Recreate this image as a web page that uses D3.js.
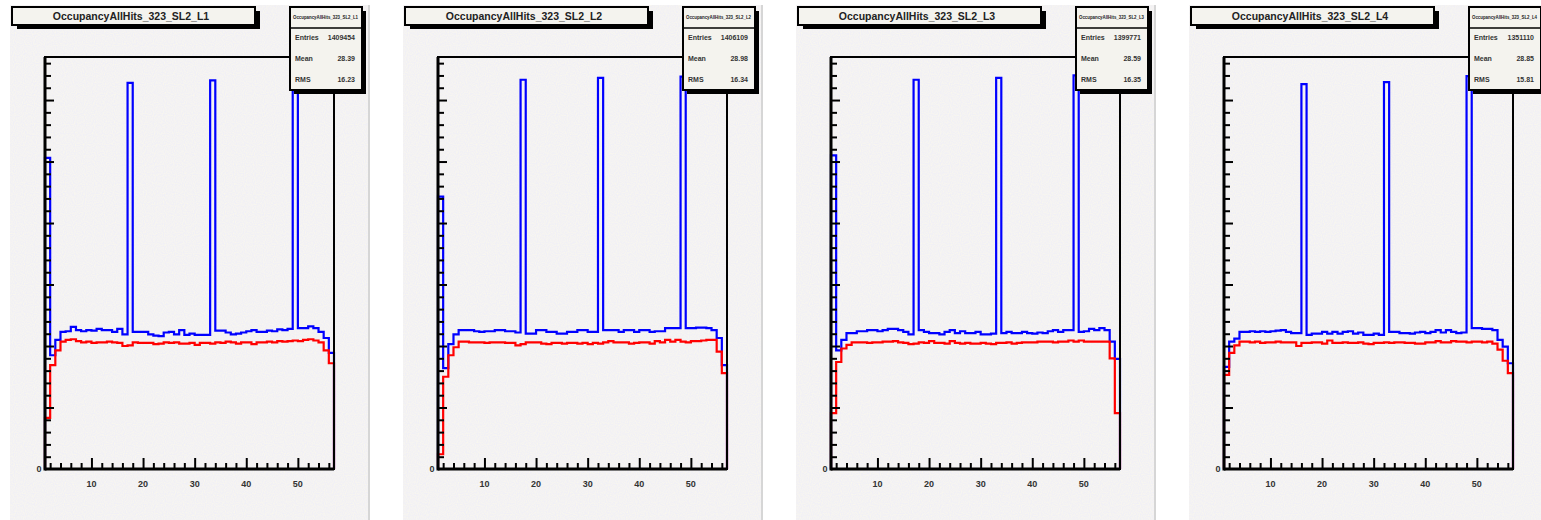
<!DOCTYPE html>
<html>
<head>
<meta charset="utf-8">
<script src="https://cdn.jsdelivr.net/npm/d3@7"></script>
<style>
  body { margin: 0; background: #fff; }
  svg { display: block; font-family: "Liberation Sans", Arial, sans-serif; }
</style>
</head>
<body>
<svg id="chart"></svg>
<script>
// Histogram data, in thousands of hits per channel (56 bins, channels 1..57)
const layers = ["L1", "L2", "L3", "L4"];
const titles = layers.map(l => "OccupancyAllHits_323_SL2_" + l);
const entries = ["1409454", "1406109", "1399771", "1351110"];
const means = ["28.39", "28.98", "28.59", "28.85"];
const rmsValues = ["16.23", "16.34", "16.35", "15.81"];

const blueL1 = [50.6, 18.5, 21.0, 22.3, 22.4, 23.1, 22.6, 22.4, 22.6, 22.5, 22.8, 22.6, 22.6, 22.3, 22.8, 21.9,
  62.8, 22.3, 22.3, 22.3, 21.9, 21.7, 21.6, 22.2, 22.3, 21.9, 22.6, 21.8, 22.0, 21.8, 21.8, 21.8,
  63.2, 22.5, 22.5, 22.2, 21.9, 22.0, 22.2, 22.4, 22.6, 22.3, 22.3, 22.5, 22.4, 22.7, 22.6, 22.8,
  64.0, 22.9, 22.9, 23.2, 22.9, 22.3, 21.3, 18.9];
const redL1 = [8.3, 16.9, 19.3, 20.7, 21.0, 21.1, 20.8, 20.6, 20.7, 20.5, 20.6, 20.6, 20.7, 20.6, 20.5, 20.0,
  20.1, 20.6, 20.5, 20.5, 20.5, 20.3, 20.4, 20.6, 20.5, 20.6, 20.4, 20.4, 20.5, 20.2, 20.5, 20.5,
  20.4, 20.6, 20.5, 20.7, 20.6, 20.4, 20.6, 20.6, 20.3, 20.6, 20.6, 20.7, 20.6, 20.8, 20.7, 20.8,
  20.9, 20.8, 21.0, 21.1, 20.9, 20.6, 19.3, 17.2];

const blueL2 = [44.3, 16.4, 20.3, 21.9, 22.6, 22.6, 22.6, 22.4, 22.3, 22.4, 22.4, 22.6, 22.6, 22.4, 22.4, 22.2,
  63.3, 22.0, 22.0, 22.6, 22.6, 22.3, 22.3, 22.0, 22.0, 22.3, 22.3, 22.6, 22.6, 22.3, 22.3,
  63.6, 22.6, 22.6, 22.6, 22.3, 22.6, 22.6, 22.3, 22.6, 22.6, 22.3, 22.4, 22.4, 22.9, 22.9, 22.9,
  63.8, 22.9, 22.9, 23.0, 23.0, 22.9, 22.6, 21.3, 16.9];
const redL2 = [2.4, 15.0, 18.5, 19.8, 20.7, 20.7, 20.6, 20.6, 20.6, 20.5, 20.6, 20.6, 20.6, 20.5, 20.5, 20.1,
  20.3, 20.6, 20.6, 20.6, 20.4, 20.3, 20.5, 20.5, 20.4, 20.5, 20.5, 20.4, 20.5, 20.3, 20.5, 20.4,
  20.6, 20.8, 20.6, 20.6, 20.6, 20.4, 20.5, 20.6, 20.6, 20.4, 20.8, 20.6, 21.0, 20.7, 21.0, 20.7,
  20.6, 20.8, 20.8, 20.9, 21.0, 21.0, 19.1, 15.6];

const blueL3 = [51.0, 19.3, 21.0, 22.1, 22.1, 22.4, 22.4, 22.6, 22.6, 22.4, 22.6, 22.8, 22.8, 22.6, 22.3, 21.9,
  63.3, 22.6, 22.3, 22.1, 22.1, 21.9, 22.3, 22.6, 22.1, 22.4, 22.1, 22.1, 22.3, 21.9, 21.9, 22.0,
  63.6, 22.1, 22.3, 22.1, 22.1, 22.3, 22.1, 22.0, 22.2, 22.1, 22.4, 22.6, 22.3, 22.6, 22.6,
  64.0, 22.3, 22.4, 22.8, 22.6, 22.9, 22.6, 20.7, 17.9];
const redL3 = [9.1, 17.4, 19.6, 20.2, 20.6, 20.6, 20.6, 20.5, 20.6, 20.6, 20.7, 20.7, 20.8, 20.6, 20.5, 20.3,
  20.4, 20.6, 20.5, 20.8, 20.5, 20.5, 20.4, 20.8, 20.5, 20.4, 20.5, 20.4, 20.4, 20.5, 20.4, 20.3,
  20.5, 20.5, 20.6, 20.4, 20.5, 20.6, 20.6, 20.6, 20.7, 20.7, 20.7, 20.6, 20.7, 20.7, 20.9, 20.7,
  20.9, 20.7, 20.7, 20.7, 20.7, 20.7, 18.0, 9.1];

const blueL4 = [16.6, 20.7, 21.2, 22.3, 22.3, 22.4, 22.3, 22.4, 22.3, 22.4, 22.5, 22.6, 22.3, 22.1, 22.1,
  62.6, 21.8, 22.0, 22.0, 22.3, 22.0, 22.3, 22.0, 22.3, 22.4, 22.0, 22.2, 21.8, 21.8, 22.0, 21.8,
  62.9, 22.3, 22.3, 22.1, 22.1, 22.0, 22.2, 22.3, 22.1, 22.3, 22.6, 22.2, 22.6, 22.3, 22.1, 22.2,
  63.9, 22.9, 22.9, 22.8, 22.8, 22.6, 21.0, 19.9, 17.2];
const redL4 = [15.3, 18.9, 20.1, 20.7, 20.7, 20.6, 20.7, 20.5, 20.6, 20.6, 20.7, 20.6, 20.6, 20.6, 20.0,
  20.5, 20.5, 20.6, 20.6, 20.4, 20.9, 20.5, 20.5, 20.6, 20.5, 20.5, 20.6, 20.4, 20.3, 20.5, 20.5,
  20.6, 20.5, 20.6, 20.6, 20.5, 20.5, 20.4, 20.4, 20.6, 20.6, 20.8, 20.6, 20.6, 20.8, 20.7, 20.7,
  20.6, 20.7, 20.7, 20.6, 20.7, 20.4, 19.4, 17.6, 15.6];

const blueSeries = [blueL1, blueL2, blueL3, blueL4];
const redSeries = [redL1, redL2, redL3, redL4];

const xDomain = [1, 57];
const yDomain = [0, 67];
const xMajorTicks = [10, 20, 30, 40, 50];

// Layout
const W = 1541, H = 520;
const panelLeft = [10, 403, 796, 1189];
const canvasW = 358;
const frame = { left: 35, width: 289, top: 57, bottom: 469 };

const svg = d3.select("#chart").attr("width", W).attr("height", H);
svg.append("rect").attr("width", W).attr("height", H).attr("fill", "#fff");

// speckled ROOT canvas look
const defs = svg.append("defs");
const filt = defs.append("filter").attr("id", "speckle").attr("x", 0).attr("y", 0).attr("width", 1).attr("height", 1);
filt.append("feTurbulence").attr("type", "fractalNoise").attr("baseFrequency", 0.9).attr("numOctaves", 1).attr("seed", 3).attr("result", "n");
filt.append("feColorMatrix").attr("in", "n").attr("type", "matrix")
  .attr("values", "0 0 0 0 0.97  0 0 0 0 0.95  0 0 0 0 0.84  1.2 -0.7 0 0 0").attr("result", "c");
filt.append("feComposite").attr("in", "c").attr("in2", "SourceGraphic").attr("operator", "over");

layers.forEach((layer, p) => {
  const ox = panelLeft[p];
  const g = svg.append("g").attr("transform", `translate(${ox},0)`);

  g.append("rect").attr("x", 0).attr("y", 5).attr("width", canvasW).attr("height", H - 5)
    .attr("fill", "#f1f0f5").attr("filter", "url(#speckle)");
  g.append("line").attr("x1", canvasW + 1).attr("x2", canvasW + 1).attr("y1", 5).attr("y2", H)
    .attr("stroke", "#c8c8c8").attr("stroke-width", 1.5);

  const x = d3.scaleLinear().domain(xDomain).range([frame.left, frame.left + frame.width]);
  const y = d3.scaleLinear().domain(yDomain).range([frame.bottom, frame.top]);

  // histograms as step outlines
  const line = d3.line().x(d => x(d[0])).y(d => y(d[1])).curve(d3.curveStepAfter);
  const outline = vals => {
    const pts = [[xDomain[0], 0]];
    vals.forEach((v, i) => pts.push([xDomain[0] + i, v]));
    pts.push([xDomain[1], vals[vals.length - 1]]);
    pts.push([xDomain[1], 0]);
    return pts;
  };
  g.append("path").attr("d", line(outline(blueSeries[p])))
    .attr("fill", "none").attr("stroke", "#0000ff").attr("stroke-width", 2.2);
  g.append("path").attr("d", line(outline(redSeries[p])))
    .attr("fill", "none").attr("stroke", "#ff0000").attr("stroke-width", 2.2);

  // frame box drawn over the histogram edges
  g.append("rect").attr("x", frame.left).attr("y", frame.top)
    .attr("width", frame.width).attr("height", frame.bottom - frame.top)
    .attr("fill", "none").attr("stroke", "#000").attr("stroke-width", 2);

  // x axis: ticks inside the frame, pointing up
  const xAxis = d3.axisTop(x).tickValues(d3.range(2, 57, 2)).tickFormat("").tickSizeOuter(0)
    .tickSize(5);
  const xg = g.append("g").attr("transform", `translate(0,${frame.bottom})`).call(xAxis);
  xg.select(".domain").remove();
  xg.selectAll(".tick line").attr("stroke", "#000").attr("stroke-width", 2)
    .attr("y2", d => xMajorTicks.includes(d) ? -11 : -6);
  xMajorTicks.forEach(t => {
    g.append("text").attr("x", x(t)).attr("y", frame.bottom + 18).attr("text-anchor", "middle")
      .attr("font-size", 9).attr("font-weight", "bold").attr("fill", "#333").text(t);
  });

  // y axis: ticks inside the frame, pointing right
  const yAxis = d3.axisRight(y).tickValues(d3.range(2, 67, 2)).tickFormat("").tickSizeOuter(0);
  const yg = g.append("g").attr("transform", `translate(${frame.left},0)`).call(yAxis);
  yg.select(".domain").remove();
  yg.selectAll(".tick line").attr("stroke", "#000").attr("stroke-width", 2)
    .attr("x2", d => d % 10 === 0 ? 9 : 6);
  g.append("text").attr("x", frame.left - 6).attr("y", frame.bottom + 3).attr("text-anchor", "middle")
    .attr("font-size", 9).attr("font-weight", "bold").attr("fill", "#333").text("0");

  // axis lines (thicker)
  g.append("line").attr("x1", frame.left).attr("x2", frame.left).attr("y1", frame.top).attr("y2", frame.bottom + 1.5)
    .attr("stroke", "#000").attr("stroke-width", 3);
  g.append("line").attr("x1", frame.left).attr("x2", frame.left + frame.width).attr("y1", frame.bottom).attr("y2", frame.bottom)
    .attr("stroke", "#000").attr("stroke-width", 3);

  // title box with shadow
  g.append("rect").attr("x", 7).attr("y", 11).attr("width", 243).attr("height", 18).attr("fill", "#000");
  g.append("rect").attr("x", 2).attr("y", 7).attr("width", 243).attr("height", 18)
    .attr("fill", "#f4f3ee").attr("stroke", "#000").attr("stroke-width", 2);
  g.append("text").attr("x", 121).attr("y", 20).attr("text-anchor", "middle")
    .attr("font-size", 10.5).attr("font-weight", "bold").attr("fill", "#222").text(titles[p]);

  // stats box with shadow
  const sx = 280, sw = 72;
  g.append("rect").attr("x", sx + 4).attr("y", 11).attr("width", sw).attr("height", 83).attr("fill", "#000");
  g.append("rect").attr("x", sx).attr("y", 7).attr("width", sw).attr("height", 83)
    .attr("fill", "#f4f3ee").attr("stroke", "#000").attr("stroke-width", 2);
  g.append("line").attr("x1", sx).attr("x2", sx + sw).attr("y1", 28).attr("y2", 28)
    .attr("stroke", "#000").attr("stroke-width", 1.5);
  g.append("text").attr("x", sx + 3).attr("y", 19)
    .attr("textLength", sw - 7).attr("lengthAdjust", "spacingAndGlyphs")
    .attr("font-size", 4.5).attr("font-weight", "bold").attr("fill", "#222").text(titles[p]);
  const rows = [["Entries", entries[p]], ["Mean", means[p]], ["RMS", rmsValues[p]]];
  rows.forEach((r, i) => {
    const ty = 40 + i * 21;
    g.append("text").attr("x", sx + 5).attr("y", ty).attr("font-size", 7).attr("font-weight", "bold")
      .attr("fill", "#333").text(r[0]);
    g.append("text").attr("x", sx + sw - 7).attr("y", ty).attr("text-anchor", "end").attr("font-size", 7)
      .attr("font-weight", "bold").attr("fill", "#333").text(r[1]);
  });
});
</script>
</body>
</html>
